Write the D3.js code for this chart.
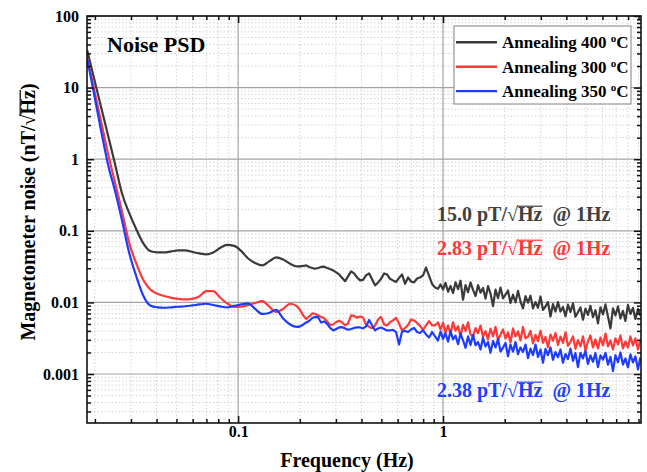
<!DOCTYPE html>
<html>
<head>
<meta charset="utf-8">
<script src="https://cdn.jsdelivr.net/npm/d3@7"></script>
<style>
body { margin: 0; background: #fff; }
svg text { font-family: "Liberation Serif", "Times New Roman", serif; font-weight: bold; }
</style>
</head>
<body>
<svg id="chart" width="647" height="472"></svg>
<script>
// frequency grid (Hz) shared by the three spectra
var freqHz = [
	0.01834, 0.01984, 0.02146, 0.02322, 0.02512, 0.02717, 0.02939, 0.0318, 0.0344, 0.03722,
	0.04026, 0.04355, 0.04712, 0.05097, 0.05514, 0.05965, 0.06453, 0.06981, 0.07551, 0.08169,
	0.08837, 0.0956, 0.1034, 0.1119, 0.121, 0.1309, 0.1416, 0.1532, 0.1658, 0.1793, 0.194,
	0.201, 0.208, 0.215, 0.222, 0.230, 0.237, 0.246, 0.254, 0.263, 0.272,
	0.281, 0.291, 0.301, 0.311, 0.322, 0.333, 0.344, 0.356, 0.368, 0.381,
	0.394, 0.407, 0.421, 0.436, 0.451, 0.466, 0.482, 0.498, 0.516, 0.533,
	0.551, 0.570, 0.590, 0.610, 0.631, 0.653, 0.675, 0.698, 0.722, 0.747,
	0.772, 0.799, 0.826, 0.855, 0.884, 0.914, 0.945,
	0.972, 1.000, 1.028, 1.058, 1.088, 1.119, 1.151, 1.184, 1.217, 1.252,
	1.288, 1.324, 1.362, 1.401, 1.441, 1.482, 1.524, 1.567, 1.612, 1.658,
	1.705, 1.754, 1.804, 1.855, 1.908, 1.962, 2.018, 2.075, 2.134, 2.195,
	2.258, 2.322, 2.388, 2.456, 2.526, 2.598, 2.672, 2.748, 2.827, 2.907,
	2.990, 3.075, 3.162, 3.252, 3.345, 3.440, 3.538, 3.639, 3.742, 3.849,
	3.959, 4.071, 4.188, 4.306, 4.429, 4.555, 4.685, 4.819, 4.956, 5.097,
	5.242, 5.392, 5.545, 5.703, 5.866, 6.033, 6.205, 6.382, 6.563, 6.750,
	6.943, 7.140, 7.344, 7.551, 7.766, 7.988, 8.215, 8.449, 8.690, 8.938,
	9.192
];

// magnetometer noise, nT/sqrt(Hz)
var noise400 = [
	33.1, 13.2, 5.29, 2.11, 0.838, 0.327, 0.178, 0.106, 0.0673, 0.0521,
	0.0499, 0.0499, 0.0516, 0.0533, 0.0533, 0.0508, 0.0483, 0.0468, 0.0499, 0.0577,
	0.0635, 0.0615, 0.0524, 0.0411, 0.0356, 0.0329, 0.0374, 0.0425, 0.0398, 0.0347, 0.0318,
	0.0318, 0.0323, 0.0329, 0.0313, 0.0303, 0.0295, 0.0303, 0.0313, 0.0316, 0.0303,
	0.0292, 0.028, 0.0262, 0.0246, 0.022, 0.0198, 0.0231, 0.0271, 0.0254, 0.0223,
	0.0203, 0.0206, 0.0238, 0.0254, 0.0209, 0.0173, 0.019, 0.0213, 0.0254, 0.0246,
	0.0214, 0.0203, 0.0193, 0.022, 0.0246, 0.0182, 0.0223, 0.0196, 0.019, 0.0216,
	0.0223, 0.0238, 0.0306, 0.0235, 0.0181, 0.0162, 0.0155,
	0.0178, 0.0151, 0.0188, 0.0141, 0.017, 0.0135, 0.0191, 0.0153, 0.0201, 0.0109,
	0.0175, 0.0139, 0.019, 0.015, 0.0123, 0.0174, 0.0137, 0.0159, 0.0113, 0.0169,
	0.0133, 0.00889, 0.0151, 0.0115, 0.0161, 0.0114, 0.0128, 0.0147, 0.0098, 0.0128,
	0.01, 0.0145, 0.0103, 0.00827, 0.0122, 0.0099, 0.0124, 0.00827, 0.0101, 0.0084,
	0.0121, 0.00785, 0.00877, 0.0101, 0.00635, 0.0095, 0.00746, 0.0101, 0.00746, 0.00865,
	0.00642, 0.0093, 0.00734, 0.0097, 0.0063, 0.00731, 0.00851, 0.00574, 0.00816, 0.0067,
	0.00894, 0.00623, 0.00778, 0.0051, 0.00851, 0.00679, 0.00937, 0.00637, 0.00433, 0.00824,
	0.00658, 0.00879, 0.00597, 0.0076, 0.00551, 0.00922, 0.0069, 0.00838, 0.00587, 0.0081,
	0.00647
];

var noise300 = [
	26.4, 9.35, 3.3, 1.17, 0.462, 0.182, 0.0682, 0.0353, 0.0207, 0.0152,
	0.0132, 0.0123, 0.0116, 0.0112, 0.011, 0.0112, 0.0121, 0.0144, 0.0144, 0.0117,
	0.00968, 0.00865, 0.0087, 0.0092, 0.0098, 0.0104, 0.00879, 0.00737, 0.00811, 0.00958, 0.00879,
	0.00773, 0.00658, 0.00587, 0.00637, 0.00702, 0.00695, 0.00658, 0.00627, 0.00601, 0.00542,
	0.00484, 0.00492, 0.00533, 0.00556, 0.00525, 0.00477, 0.00508, 0.00658, 0.00647, 0.0061,
	0.00637, 0.00617, 0.00492, 0.00454, 0.00437, 0.00477, 0.00578, 0.00627, 0.00492, 0.00477,
	0.0053, 0.0056, 0.00607, 0.00508, 0.00406, 0.0044, 0.00484, 0.00578, 0.0056, 0.00517,
	0.0047, 0.00412, 0.00477, 0.00547, 0.00477, 0.00477, 0.00525,
	0.00419, 0.00518, 0.00383, 0.00475, 0.00363, 0.00527, 0.00402, 0.00466, 0.00335, 0.00487,
	0.00398, 0.00528, 0.00356, 0.00332, 0.00439, 0.00372, 0.00475, 0.0033, 0.00396, 0.00305,
	0.00432, 0.00335, 0.00457, 0.00297, 0.00357, 0.00419, 0.00314, 0.0038, 0.00276, 0.00433,
	0.00335, 0.00393, 0.00294, 0.00454, 0.00316, 0.00333, 0.00398, 0.00268, 0.00353, 0.00288,
	0.00402, 0.00273, 0.00329, 0.00237, 0.00356, 0.00292, 0.00374, 0.00254, 0.00334, 0.00272,
	0.00383, 0.00248, 0.0028, 0.00336, 0.00225, 0.00297, 0.00243, 0.00335, 0.00213, 0.00285,
	0.00346, 0.00235, 0.00304, 0.00228, 0.00324, 0.00251, 0.00368, 0.00243, 0.00294, 0.0022,
	0.00314, 0.00259, 0.00346, 0.00228, 0.00285, 0.00235, 0.00335, 0.00251, 0.00314, 0.0022,
	0.00304
];

var noise350 = [
	25.6, 7.96, 2.48, 0.822, 0.355, 0.137, 0.0494, 0.0234, 0.0125, 0.00908,
	0.00855, 0.00842, 0.00855, 0.0087, 0.00884, 0.00908, 0.00937, 0.00958, 0.0092, 0.00879,
	0.00851, 0.00894, 0.00937, 0.00968, 0.00811, 0.0069, 0.00713, 0.00785, 0.00597, 0.00492, 0.00455,
	0.00462, 0.00492, 0.00525, 0.00551, 0.00607, 0.00627, 0.00617, 0.00525, 0.00542, 0.005,
	0.0044, 0.00406, 0.00426, 0.00447, 0.00451, 0.00433, 0.00415, 0.00426, 0.0044, 0.00449,
	0.00447, 0.00433, 0.00462, 0.00569, 0.00477, 0.00406, 0.00433, 0.00447, 0.00426, 0.00406,
	0.00406, 0.00415, 0.00386, 0.00259, 0.00393, 0.004, 0.00386, 0.00419, 0.0044, 0.00386,
	0.00374, 0.00406, 0.00357, 0.00324, 0.00386, 0.00335, 0.00294,
	0.00391, 0.00309, 0.00371, 0.00283, 0.00398, 0.00305, 0.00343, 0.00261, 0.00367, 0.00296,
	0.00232, 0.00335, 0.00254, 0.00353, 0.00252, 0.0028, 0.0022, 0.0032, 0.00242, 0.0028,
	0.00198, 0.00289, 0.00235, 0.00308, 0.00206, 0.00233, 0.00271, 0.00177, 0.00258, 0.00205,
	0.0028, 0.00189, 0.00235, 0.00203, 0.00258, 0.00167, 0.00226, 0.00184, 0.00258, 0.00173,
	0.0022, 0.00144, 0.00224, 0.00183, 0.00235, 0.00158, 0.00203, 0.00172, 0.0022, 0.00144,
	0.0019, 0.00162, 0.00226, 0.00153, 0.00196, 0.00125, 0.00198, 0.00165, 0.0021, 0.00138,
	0.00182, 0.00148, 0.00196, 0.00125, 0.00182, 0.00159, 0.00198, 0.00135, 0.00174, 0.0011,
	0.00183, 0.00146, 0.002, 0.00136, 0.00165, 0.00124, 0.00188, 0.00145, 0.00176, 0.00116,
	0.00171
];

var seriesTemps = ["400", "300", "350"];
var seriesColors = ["#3a3a3a", "#ff3838", "#1e3cff"];
var noteValues = ["15.0", "2.83", "2.38"];
var noteColors = ["#404040", "#ff3838", "#2040ff"];
var xTickValues = [0.1, 1];
var xTickLabels = ["0.1", "1"];
var yTickValues = [0.001, 0.01, 0.1, 1, 10, 100];
var yTickLabels = ["0.001", "0.01", "0.1", "1", "10", "100"];

var plotL = 87, plotT = 16, plotR = 641, plotB = 423;

var svg = d3.select("#chart");

var x = d3.scaleLog().domain([0.0183, 9.25]).range([plotL, plotR]);
var y = d3.scaleLog().domain([2.07e-4, 100]).range([plotB, plotT]);

function isDecade(d) {
	var l = Math.log10(d);
	return Math.abs(l - Math.round(l)) < 1e-6;
}
var xMinor = x.ticks().filter(function(d){ return !isDecade(d); });
var yMinor = y.ticks().filter(function(d){ return !isDecade(d); });

// grid
var grid = svg.append("g");
grid.selectAll(".gxm").data(xMinor).enter().append("line")
	.attr("x1", x).attr("x2", x).attr("y1", plotT).attr("y2", plotB)
	.style("stroke", "#d4d4d4").style("stroke-width", "1px").style("stroke-dasharray", "1.5,2");
grid.selectAll(".gym").data(yMinor).enter().append("line")
	.attr("y1", y).attr("y2", y).attr("x1", plotL).attr("x2", plotR)
	.style("stroke", "#d4d4d4").style("stroke-width", "1px").style("stroke-dasharray", "1.5,2");
grid.selectAll(".gx").data(xTickValues).enter().append("line")
	.attr("x1", x).attr("x2", x).attr("y1", plotT).attr("y2", plotB)
	.style("stroke", "#a4a4a4").style("stroke-width", "1.2px");
grid.selectAll(".gy").data(yTickValues).enter().append("line")
	.attr("y1", y).attr("y2", y).attr("x1", plotL).attr("x2", plotR)
	.style("stroke", "#a4a4a4").style("stroke-width", "1.2px");

// curves: smooth low-frequency part, jagged high-frequency part
svg.append("clipPath").attr("id", "clip")
	.append("rect").attr("x", plotL).attr("y", plotT)
	.attr("width", plotR - plotL).attr("height", plotB - plotT);

var smoothLine = d3.line()
	.x(function(d){ return x(d[0]); })
	.y(function(d){ return y(d[1]); })
	.curve(d3.curveMonotoneX);
var roughLine = d3.line()
	.x(function(d){ return x(d[0]); })
	.y(function(d){ return y(d[1]); });

var split = freqHz.findIndex(function(f){ return f >= 0.2; });
var allSeries = [noise400, noise300, noise350];
var curves = svg.append("g").attr("clip-path", "url(#clip)");
allSeries.forEach(function(vals, i) {
	var pts = d3.zip(freqHz, vals);
	curves.append("path")
		.attr("d", smoothLine(pts.slice(0, split + 1)) + roughLine(pts.slice(split)).replace(/^M/, "L"))
		.style("fill", "none")
		.style("stroke", seriesColors[i])
		.style("stroke-width", "2.2px")
		.style("stroke-linejoin", "round");
});

// axes: ticks inside on all four sides
function styleAxis(g) {
	g.select(".domain").remove();
	g.selectAll(".tick line").style("stroke", "#111").style("stroke-width", "1.5px");
	g.selectAll("text").style("font-size", "16px").style("fill", "#000")
		.style("font-family", "'Liberation Serif', 'Times New Roman', serif").style("font-weight", "bold");
}
var fmtX = function(d){ return xTickLabels[xTickValues.indexOf(d)]; };
var fmtY = function(d){ return yTickLabels[yTickValues.indexOf(d)]; };

svg.append("g").attr("transform", "translate(0," + plotB + ")")
	.call(d3.axisBottom(x).tickValues(xTickValues).tickFormat(fmtX).tickSizeInner(-7).tickSizeOuter(0).tickPadding(3))
	.call(styleAxis);
svg.append("g").attr("transform", "translate(0," + plotB + ")")
	.call(d3.axisBottom(x).tickValues(xMinor).tickFormat("").tickSizeInner(-4).tickSizeOuter(0))
	.call(styleAxis);
svg.append("g").attr("transform", "translate(0," + plotT + ")")
	.call(d3.axisTop(x).tickValues(xTickValues).tickFormat("").tickSizeInner(-7).tickSizeOuter(0))
	.call(styleAxis);
svg.append("g").attr("transform", "translate(0," + plotT + ")")
	.call(d3.axisTop(x).tickValues(xMinor).tickFormat("").tickSizeInner(-4).tickSizeOuter(0))
	.call(styleAxis);
svg.append("g").attr("transform", "translate(" + plotL + ",0)")
	.call(d3.axisLeft(y).tickValues(yTickValues).tickFormat(fmtY).tickSizeInner(-7).tickSizeOuter(0).tickPadding(8))
	.call(styleAxis);
svg.append("g").attr("transform", "translate(" + plotL + ",0)")
	.call(d3.axisLeft(y).tickValues(yMinor).tickFormat("").tickSizeInner(-4).tickSizeOuter(0))
	.call(styleAxis);
svg.append("g").attr("transform", "translate(" + plotR + ",0)")
	.call(d3.axisRight(y).tickValues(yTickValues).tickFormat("").tickSizeInner(-7).tickSizeOuter(0))
	.call(styleAxis);
svg.append("g").attr("transform", "translate(" + plotR + ",0)")
	.call(d3.axisRight(y).tickValues(yMinor).tickFormat("").tickSizeInner(-4).tickSizeOuter(0))
	.call(styleAxis);

svg.append("rect")
	.attr("x", plotL).attr("y", plotT)
	.attr("width", plotR - plotL).attr("height", plotB - plotT)
	.style("fill", "none").style("stroke", "#111").style("stroke-width", "1.6px");

// text with a sqrt bar over the "Hz" that follows the radical sign
function sqrtText(g, str, size, color, anchor) {
	var t = g.append("text")
		.attr("x", 0).attr("y", 0)
		.attr("text-anchor", anchor)
		.style("white-space", "pre")
		.style("font-size", size + "px")
		.style("fill", color)
		.text(str);
	var node = t.node();
	var i = str.indexOf("\u221a");
	var a = node.getExtentOfChar(i);
	var b = node.getExtentOfChar(i + 2);
	var barY = -0.74 * size;
	g.append("line")
		.attr("x1", a.x + a.width - 1).attr("x2", b.x + b.width)
		.attr("y1", barY).attr("y2", barY)
		.style("stroke", color).style("stroke-width", (size * 0.06) + "px");
	return t;
}

// axis titles
svg.append("text")
	.attr("x", 347).attr("y", 467)
	.attr("text-anchor", "middle")
	.style("font-size", "20px")
	.text("Frequency (Hz)");

var yTitle = svg.append("g").attr("transform", "translate(35,212) rotate(-90)");
sqrtText(yTitle, "Magnetometer noise (nT/\u221aHz)", 20, "#000", "middle");

// panel title
svg.append("text")
	.attr("x", 107).attr("y", 52)
	.style("font-size", "22px")
	.text("Noise PSD");

// legend
var legend = svg.append("g").attr("transform", "translate(454,26)");
legend.append("rect")
	.attr("width", 177).attr("height", 78)
	.style("fill", "#fff").style("stroke", "#808080").style("stroke-width", "1px");
var rows = legend.selectAll(".row").data(seriesTemps).enter().append("g")
	.attr("transform", function(d, i){ return "translate(0," + (16.3 + i * 24.4) + ")"; });
rows.append("line")
	.attr("x1", 2).attr("x2", 43)
	.style("stroke", function(d, i){ return seriesColors[i]; })
	.style("stroke-width", "2.4px");
var lt = rows.append("text")
	.attr("x", 48).attr("y", 6)
	.style("font-size", "17px")
	.style("white-space", "pre");
lt.append("tspan").text(function(d){ return "Annealing " + d + " "; });
lt.append("tspan").attr("dy", -6).style("font-size", "11px").text("o");
lt.append("tspan").attr("dy", 6).text("C");

// sensitivity notes
var noteY = [221, 255, 397];
noteValues.forEach(function(v, i) {
	var g = svg.append("g").attr("transform", "translate(437," + noteY[i] + ")");
	sqrtText(g, v + " pT/\u221aHz  @ 1Hz", 20, noteColors[i], "start");
});
</script>
</body>
</html>
